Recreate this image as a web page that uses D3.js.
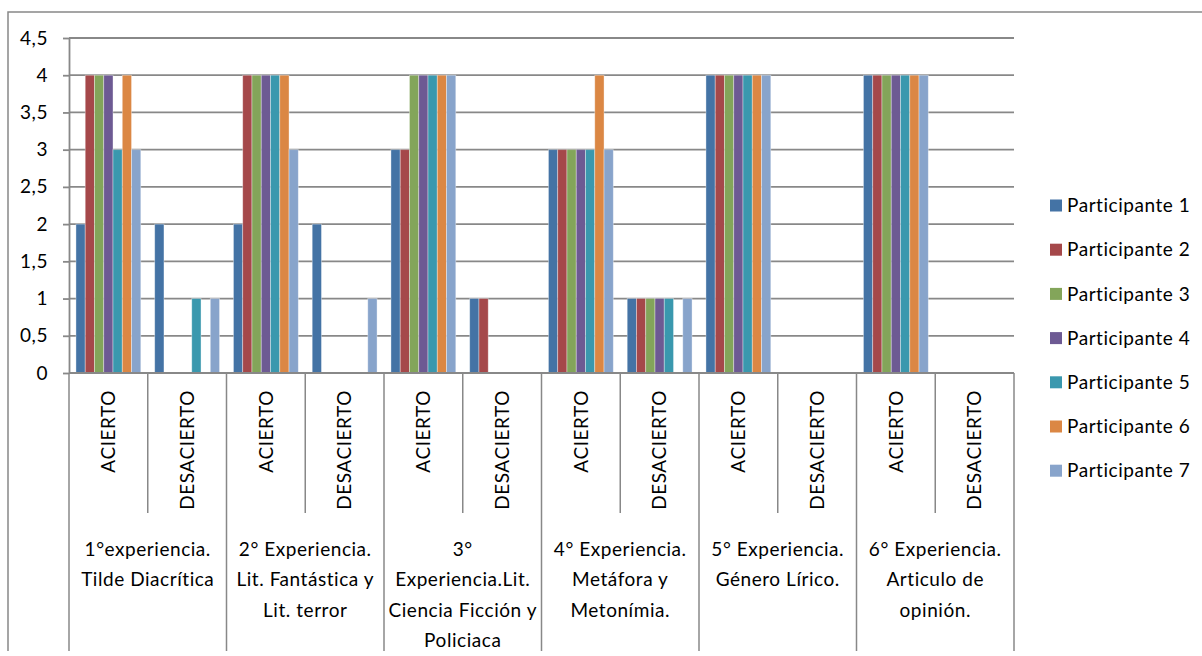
<!DOCTYPE html>
<html>
<head>
<meta charset="utf-8">
<script src="https://cdn.jsdelivr.net/npm/d3@7"></script>
<style>
  html, body { margin: 0; padding: 0; background: #fff; }
  svg { display: block; font-family: Lato, "Noto Sans", sans-serif; }
  svg text { letter-spacing: 0.55px; }
</style>
</head>
<body>
<svg id="chart" width="1202" height="656"></svg>
<script>
// Experiences (outer category level), each with two outcomes (inner level)
const experiences = [
  ["1°experiencia.", "Tilde Diacrítica"],
  ["2° Experiencia.", "Lit. Fantástica y", "Lit. terror"],
  ["3°", "Experiencia.Lit.", "Ciencia Ficción y", "Policiaca"],
  ["4° Experiencia.", "Metáfora y", "Metonímia."],
  ["5° Experiencia.", "Género Lírico."],
  ["6° Experiencia.", "Articulo de", "opinión."]
];
const outcomes = ["ACIERTO", "DESACIERTO"];

const participants = [
  "Participante 1", "Participante 2", "Participante 3", "Participante 4",
  "Participante 5", "Participante 6", "Participante 7"
];

// Scores per participant, in order: exp1 acierto, exp1 desacierto, exp2 acierto, ...
const participante1 = [2, 2, 2, 2, 3, 1, 3, 1, 4, 0, 4, 0];
const participante2 = [4, 0, 4, 0, 3, 1, 3, 1, 4, 0, 4, 0];
const participante3 = [4, 0, 4, 0, 4, 0, 3, 1, 4, 0, 4, 0];
const participante4 = [4, 0, 4, 0, 4, 0, 3, 1, 4, 0, 4, 0];
const participante5 = [3, 1, 4, 0, 4, 0, 3, 1, 4, 0, 4, 0];
const participante6 = [4, 0, 4, 0, 4, 0, 4, 0, 4, 0, 4, 0];
const participante7 = [3, 1, 3, 1, 4, 0, 3, 1, 4, 0, 4, 0];
const seriesValues = [participante1, participante2, participante3, participante4,
                      participante5, participante6, participante7];

const yTicks = [0, 0.5, 1, 1.5, 2, 2.5, 3, 3.5, 4, 4.5];
const yTickLabels = ["0", "0,5", "1", "1,5", "2", "2,5", "3", "3,5", "4", "4,5"];

const colors = ["#4473A5", "#A5484A", "#83A55A", "#6D5A93", "#3A98AE", "#DB8744", "#88A4CB"];

// ---- layout ----
const svg = d3.select("#chart");
const plotLeft = 69, plotRight = 1014, plotTop = 38, plotBottom = 373;
const innerLabelBottom = 513, outerBottom = 651;
const gridColor = "#888888";
const fontSize = 19;

// category keys: one per (experience, outcome)
const categories = [];
experiences.forEach((e, i) => outcomes.forEach(o => categories.push(i + "|" + o)));

const x0 = d3.scaleBand().domain(categories).range([plotLeft, plotRight]).paddingInner(0).paddingOuter(0);
const x1 = d3.scaleBand().domain(participants).range([0, x0.bandwidth()]).paddingInner(0).paddingOuter(0.75);
const y = d3.scaleLinear().domain([0, 4.5]).range([plotBottom, plotTop]);

// outer chart frame
svg.append("path")
  .attr("d", `M8,${outerBottom} V12 H1202`)
  .attr("fill", "none").attr("stroke", gridColor).attr("stroke-width", 1.5);

// horizontal gridlines
svg.append("g").selectAll("line").data(yTicks.filter(v => v > 0)).join("line")
  .attr("x1", plotLeft).attr("x2", plotRight)
  .attr("y1", d => y(d)).attr("y2", d => y(d))
  .attr("stroke", gridColor).attr("stroke-width", 1.8);

// bars
const barData = [];
categories.forEach((c, ci) => {
  participants.forEach((p, pi) => {
    const v = seriesValues[pi][ci];
    if (v > 0) barData.push({ c, p, v, color: colors[pi] });
  });
});
svg.append("g").selectAll("rect").data(barData).join("rect")
  .attr("x", d => x0(d.c) + x1(d.p))
  .attr("y", d => y(d.v))
  .attr("width", x1.bandwidth())
  .attr("height", d => y(0) - y(d.v))
  .attr("fill", d => d.color)
  .attr("stroke", "rgba(255,255,255,0.45)")
  .attr("stroke-width", 0.8);

// y axis
const yAxis = d3.axisLeft(y)
  .tickValues(yTicks)
  .tickFormat((d, i) => yTickLabels[i])
  .tickSize(6).tickSizeOuter(0).tickPadding(15);
const gy = svg.append("g").attr("transform", `translate(${plotLeft},0)`).call(yAxis);
gy.select(".domain").attr("stroke", gridColor).attr("stroke-width", 1.8);
gy.selectAll(".tick line").attr("stroke", gridColor).attr("stroke-width", 1.8);
gy.selectAll(".tick text").attr("font-size", fontSize).attr("fill", "#000")
  .attr("font-family", "Lato, 'Noto Sans', sans-serif");

// x axis baseline
svg.append("line")
  .attr("x1", plotLeft).attr("x2", plotRight).attr("y1", plotBottom).attr("y2", plotBottom)
  .attr("stroke", gridColor).attr("stroke-width", 1.8);

// category separators: short ones between outcomes, long ones between experiences
const boundaries = categories.map(c => x0(c)).concat([x0.range()[1]]);
svg.append("g").selectAll("line").data(boundaries).join("line")
  .attr("x1", d => d).attr("x2", d => d)
  .attr("y1", plotBottom)
  .attr("y2", (d, i) => (i % 2 === 0 ? outerBottom : innerLabelBottom))
  .attr("stroke", gridColor).attr("stroke-width", 1.5);

// inner (rotated) labels
svg.append("g").selectAll("text").data(categories).join("text")
  .attr("transform", d => `translate(${x0(d) + x0.bandwidth() / 2},390) rotate(-90)`)
  .attr("text-anchor", "end")
  .attr("dy", "0.35em")
  .attr("font-size", fontSize)
  .attr("fill", "#000")
  .text(d => d.split("|")[1]);

// outer (experience) labels
const lineHeight = 30.5;
const gOuter = svg.append("g");
experiences.forEach((lines, i) => {
  const cx = (x0(i + "|" + outcomes[0]) + x0(i + "|" + outcomes[1]) + x0.bandwidth()) / 2;
  const t = gOuter.append("text")
    .attr("text-anchor", "middle")
    .attr("font-size", fontSize)
    .attr("fill", "#000");
  t.selectAll("tspan").data(lines).join("tspan")
    .attr("x", cx)
    .attr("y", (d, j) => 549 + j * lineHeight)
    .attr("dy", "0.35em")
    .text(d => d);
});

// legend
const legend = svg.append("g").selectAll("g").data(participants).join("g")
  .attr("transform", (d, i) => `translate(1050,${205.5 + i * 44.2})`);
legend.append("rect")
  .attr("x", 0).attr("y", -6).attr("width", 12).attr("height", 12)
  .attr("fill", (d, i) => colors[i]);
legend.append("text")
  .attr("x", 17).attr("dy", "0.35em")
  .attr("font-size", fontSize).attr("fill", "#000")
  .text(d => d);
</script>
</body>
</html>
